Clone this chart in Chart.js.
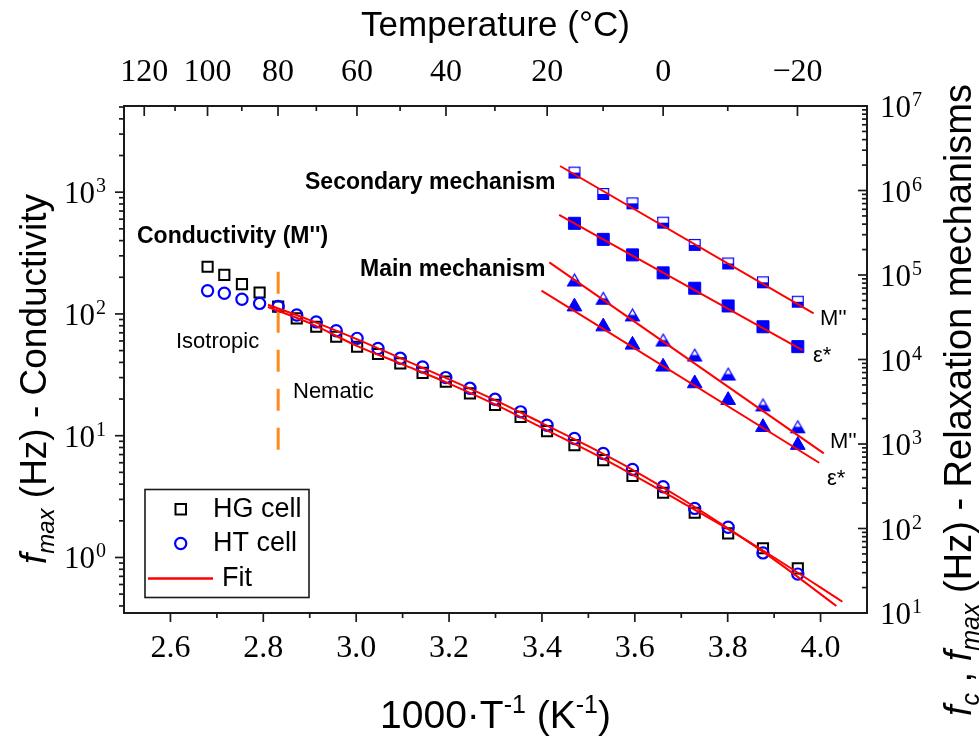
<!DOCTYPE html>
<html>
<head>
<meta charset="utf-8">
<script src="https://cdn.jsdelivr.net/npm/chart.js@4/dist/chart.umd.min.js"></script>
<style>
html,body{margin:0;padding:0;background:#fff;}
#wrap{width:979px;height:742px;position:relative;}
canvas{display:block;}
</style>
</head>
<body>
<div id="wrap"><canvas id="c" width="979" height="742"></canvas></div>
<script>
// ---------------- data ----------------
// 1000/T for the conductivity measurements (100 °C ... -20 °C)
const condInvT = [2.680, 2.716, 2.754, 2.792, 2.832, 2.872, 2.914, 2.957, 3.002, 3.047, 3.095, 3.143, 3.193,
                  3.245, 3.299, 3.354, 3.411, 3.470, 3.532, 3.595, 3.661, 3.729, 3.801, 3.876, 3.951];
const hgCell = [244, 209, 176, 150, 115, 92, 78.5, 65, 53.8, 46.9, 39.3, 32.8, 27.8,
                22.3, 17.9, 14.3, 10.9, 8.37, 6.31, 4.67, 3.40, 2.33, 1.58, 1.19, 0.815];
const htCell = [155, 148, 132, 122, 115, 98, 86, 72.8, 63, 52, 43.2, 36.7, 30,
                24.5, 19.9, 15.7, 12.2, 9.49, 7.15, 5.28, 3.81, 2.53, 1.77, 1.09, 0.73];

// conductivity fits
const fitHTx = [2.81, 2.9, 3.0, 3.1, 3.2, 3.3, 3.4, 3.5, 3.6, 3.7, 3.8, 3.9, 4.034];
const fitHTy = [119, 89, 62.4, 42.5, 29.0, 19.5, 12.7, 8.2, 5.13, 3.05, 1.74, 0.96, 0.40];
const fitHGx = [2.81, 2.9, 3.0, 3.1, 3.2, 3.3, 3.4, 3.5, 3.6, 3.7, 3.8, 3.9, 4.047];
const fitHGy = [114, 84, 55, 38.5, 26.8, 18.0, 11.6, 7.5, 4.68, 2.85, 1.72, 1.0, 0.433];

// relaxation mechanisms (right axis), 15 °C ... -20 °C
const relaxInvT = [3.470, 3.532, 3.595, 3.661, 3.729, 3.801, 3.876, 3.951];
const secondaryM = [1.63e6, 9.1e5, 7.05e5, 4.16e5, 2.27e5, 1.37e5, 8.2e4, 4.83e4];
const secondaryEps = [4.09e5, 2.64e5, 1.73e5, 1.06e5, 6.97e4, 4.3e4, 2.44e4, 1.42e4];
const mainM = [8.73e4, 5.3e4, 3.37e4, 1.70e4, 1.13e4, 6.73e3, 2.9e3, 1.6e3];
const mainEps = [4.22e4, 2.45e4, 1.49e4, 8.2e3, 5.2e3, 3.3e3, 1.58e3, 9.7e2];

// Arrhenius fit lines (end points)
const secMFitX = [3.439, 3.985], secMFitY = [1.95e6, 3.52e4];
const secEpsFitX = [3.437, 3.961], secEpsFitY = [5.13e5, 1.29e4];
const mainMFitX = [3.416, 4.007], mainMFitY = [1.41e5, 7.76e2];
const mainEpsFitX = [3.399, 3.997], mainEpsFitY = [6.52e4, 6.0e2];

// nematic-isotropic transition marker
const transX = [2.832, 2.832], transY = [222, 7.16];

// axis ticks
const xMajorTicks = [2.6, 2.8, 3.0, 3.2, 3.4, 3.6, 3.8, 4.0];
const xMinorTicks = [2.7, 2.9, 3.1, 3.3, 3.5, 3.7, 3.9];
const topTempMajor = [120, 100, 80, 60, 40, 20, 0, -20];
const topTempMinor = [110, 90, 70, 50, 30, 10, -10];
const leftExponents = [0, 1, 2, 3];
const rightExponents = [1, 2, 3, 4, 5, 6, 7];

// ---------------- styling ----------------
const SANS = '"Liberation Sans", Arial, sans-serif';
const SERIF = '"Liberation Serif", "Times New Roman", serif';
const BLUE = '#0000ff';
const RED = '#ff0000';
const ORANGE = '#ff8a1c';

function pts(xs, ys) { return xs.map((x, i) => ({ x: x, y: ys[i] })); }

function makeHalfSquare(side, color) {
  const c = document.createElement('canvas');
  const s = Math.ceil(side) + 2; c.width = s; c.height = s;
  const g = c.getContext('2d'); const o = (s - side) / 2;
  g.fillStyle = color; g.fillRect(o, o + side / 2, side, side / 2);
  g.strokeStyle = color; g.lineWidth = 1.2; g.strokeRect(o + 0.6, o + 0.6, side - 1.2, side - 1.2);
  return c;
}
function makeHalfTriangle(w, h, color) {
  const c = document.createElement('canvas');
  c.width = Math.ceil(w) + 2; c.height = Math.ceil(h) + 2;
  const g = c.getContext('2d'); const cx = c.width / 2, top = 1, bot = 1 + h, mid = top + h / 2;
  g.fillStyle = color;
  g.beginPath(); g.moveTo(cx - w / 4, mid); g.lineTo(cx + w / 4, mid); g.lineTo(cx + w / 2, bot); g.lineTo(cx - w / 2, bot); g.closePath(); g.fill();
  g.strokeStyle = color; g.lineWidth = 1.2;
  g.beginPath(); g.moveTo(cx, top + 0.6); g.lineTo(cx + w / 2 - 0.6, bot - 0.6); g.lineTo(cx - w / 2 + 0.6, bot - 0.6); g.closePath(); g.stroke();
  return c;
}
const halfSq = makeHalfSquare(12, BLUE);
const halfTri = makeHalfTriangle(15, 13, BLUE);

function lineDs(data, color, width, extra) {
  return Object.assign({ data: data, showLine: true, borderColor: color, borderWidth: width, pointRadius: 0,
    pointHoverRadius: 0, fill: false, order: 0, yAxisID: 'y' }, extra || {});
}

const datasets = [
  lineDs(pts(fitHTx, fitHTy), RED, 2, { cubicInterpolationMode: 'monotone' }),
  lineDs(pts(fitHGx, fitHGy), RED, 2, { cubicInterpolationMode: 'monotone' }),
  lineDs(pts(transX, transY), ORANGE, 3, { borderDash: [22, 17] }),
  lineDs(pts(secMFitX, secMFitY), RED, 2, { yAxisID: 'y2' }),
  lineDs(pts(secEpsFitX, secEpsFitY), RED, 2, { yAxisID: 'y2' }),
  lineDs(pts(mainMFitX, mainMFitY), RED, 2, { yAxisID: 'y2' }),
  lineDs(pts(mainEpsFitX, mainEpsFitY), RED, 2, { yAxisID: 'y2' }),
  { label: 'HT cell', data: pts(condInvT, htCell), pointStyle: 'circle', pointRadius: 5.6, borderColor: BLUE,
    backgroundColor: 'rgba(0,0,0,0)', pointBorderWidth: 2.2, borderWidth: 2.2, order: 1, yAxisID: 'y' },
  { label: 'HG cell', data: pts(condInvT, hgCell), pointStyle: 'rect', pointRadius: 7.2, borderColor: '#000',
    backgroundColor: 'rgba(0,0,0,0)', pointBorderWidth: 2, borderWidth: 2, order: 2, yAxisID: 'y' },
  { label: 'sec M', data: pts(relaxInvT, secondaryM), pointStyle: halfSq, pointRadius: 6, order: 3, yAxisID: 'y2' },
  { label: 'sec eps', data: pts(relaxInvT, secondaryEps), pointStyle: 'rect', pointRadius: 8.5, borderColor: BLUE,
    backgroundColor: BLUE, pointBorderWidth: 1, order: 3, yAxisID: 'y2' },
  { label: 'main M', data: pts(relaxInvT, mainM), pointStyle: halfTri, pointRadius: 6, order: 3, yAxisID: 'y2' },
  { label: 'main eps', data: pts(relaxInvT, mainEps), pointStyle: 'triangle', pointRadius: 8.5, borderColor: BLUE,
    backgroundColor: BLUE, pointBorderWidth: 1, order: 3, yAxisID: 'y2' }
];

// ---------------- decorations drawn through the chart's scales ----------------
function richText(ctx, parts, x, y, rot, align) {
  ctx.save();
  ctx.translate(x, y); ctx.rotate(rot || 0);
  let total = 0;
  parts.forEach(p => { ctx.font = p.font; p.w = ctx.measureText(p.t).width; total += p.w + (p.gap || 0); });
  let cx = align === 'left' ? 0 : (align === 'right' ? -total : -total / 2);
  ctx.textBaseline = 'alphabetic'; ctx.textAlign = 'left';
  parts.forEach(p => { ctx.font = p.font; ctx.fillText(p.t, cx, p.dy || 0); cx += p.w + (p.gap || 0); });
  ctx.restore();
}
function powLabel(ctx, exp, x, yPix, align) {
  const base = { t: '10', font: '31px ' + SERIF, dy: 11, gap: 1 };
  const sup = { t: String(exp), font: '20px ' + SERIF, dy: 0 };
  richText(ctx, [base, sup], x, yPix, 0, align);
}

const decor = {
  id: 'decor',
  afterDatasetsDraw(chart) {
    const ctx = chart.ctx, a = chart.chartArea;
    const x = chart.scales.x, y = chart.scales.y, y2 = chart.scales.y2;
    ctx.save();
    ctx.fillStyle = '#000'; ctx.strokeStyle = '#1a1a1a';
    const seg = (x1, y1, x2, y2_) => { ctx.beginPath(); ctx.moveTo(x1, y1); ctx.lineTo(x2, y2_); ctx.stroke(); };

    // frame
    ctx.lineWidth = 2;
    ctx.strokeRect(a.left, a.top, a.right - a.left, a.bottom - a.top);

    // ticks
    ctx.lineWidth = 1.7;
    xMajorTicks.forEach(v => { const p = x.getPixelForValue(v); seg(p, a.bottom, p, a.bottom + 9); });
    xMinorTicks.forEach(v => { const p = x.getPixelForValue(v); seg(p, a.bottom, p, a.bottom + 5); });
    topTempMajor.forEach(t => { const p = x.getPixelForValue(1000 / (t + 273.15)); seg(p, a.top, p, a.top + 10); });
    topTempMinor.forEach(t => { const p = x.getPixelForValue(1000 / (t + 273.15)); seg(p, a.top, p, a.top + 5); });
    for (let e = -1; e <= 3; e++) for (let m = 1; m <= 9; m++) {
      const v = m * Math.pow(10, e);
      if (v < y.min || v > y.max) continue;
      const p = y.getPixelForValue(v); seg(a.left - (m === 1 ? 9 : 5), p, a.left, p);
    }
    for (let e = 1; e <= 7; e++) for (let m = 1; m <= 9; m++) {
      const v = m * Math.pow(10, e);
      if (v < y2.min || v > y2.max * 1.0001) continue;
      const p = y2.getPixelForValue(v); seg(a.right - (m === 1 ? 9 : 5), p, a.right, p);
    }

    // tick labels
    ctx.fillStyle = '#000';
    ctx.font = '32px ' + SERIF; ctx.textAlign = 'center'; ctx.textBaseline = 'alphabetic';
    xMajorTicks.forEach(v => ctx.fillText(v.toFixed(1), x.getPixelForValue(v), 657));
    topTempMajor.forEach(t => {
      const lbl = t < 0 ? '\u2212' + Math.abs(t) : String(t);
      ctx.fillText(lbl, x.getPixelForValue(1000 / (t + 273.15)), 81);
    });
    leftExponents.forEach(e => powLabel(ctx, e, 106, y.getPixelForValue(Math.pow(10, e)), 'right'));
    rightExponents.forEach(e => powLabel(ctx, e, 880, y2.getPixelForValue(Math.pow(10, e)), 'left'));

    // axis titles
    const cxPlot = (a.left + a.right) / 2;
    ctx.font = '35px ' + SANS; ctx.textAlign = 'center'; ctx.textBaseline = 'alphabetic';
    ctx.fillText('Temperature (\u00B0C)', cxPlot, 36);
    richText(ctx, [
      { t: '1000\u00B7T', font: '39px ' + SANS },
      { t: '-1', font: '25px ' + SANS, dy: -15 },
      { t: ' (K', font: '39px ' + SANS },
      { t: '-1', font: '25px ' + SANS, dy: -15 },
      { t: ')', font: '39px ' + SANS }
    ], cxPlot, 728, 0, 'center');
    richText(ctx, [
      { t: 'f', font: 'italic 37px ' + SANS },
      { t: 'max', font: 'italic 24px ' + SANS, dy: 8 },
      { t: ' (Hz) - Conductivity', font: '37px ' + SANS }
    ], 46, 379, -Math.PI / 2, 'center');
    richText(ctx, [
      { t: 'f', font: 'italic 38px ' + SANS },
      { t: 'c', font: 'italic 25px ' + SANS, dy: 8 },
      { t: ' , ', font: '38px ' + SANS },
      { t: 'f', font: 'italic 38px ' + SANS },
      { t: 'max', font: 'italic 25px ' + SANS, dy: 8 },
      { t: ' (Hz) - Relaxation mechanisms', font: '38px ' + SANS }
    ], 971, 400, -Math.PI / 2, 'center');

    // annotations
    ctx.textAlign = 'left'; ctx.textBaseline = 'middle';
    ctx.font = 'bold 23px ' + SANS;
    ctx.fillText('Secondary mechanism', 305, 183);
    ctx.fillText('Main mechanism', 360, 270);
    ctx.fillText("Conductivity (M'')", 137, 237);
    ctx.font = '22px ' + SANS;
    ctx.fillText('Isotropic', 176, 342);
    ctx.fillText('Nematic', 293, 392);
    ctx.fillText("M''", 820, 319);
    ctx.fillText('\u03B5*', 813, 356);
    ctx.fillText("M''", 830, 442);
    ctx.fillText('\u03B5*', 827, 479);

    // legend
    ctx.lineWidth = 1.6; ctx.strokeStyle = '#1a1a1a';
    ctx.strokeRect(145, 489.5, 164, 108);
    ctx.lineWidth = 2; ctx.strokeStyle = '#000';
    ctx.strokeRect(175.5, 504, 10.5, 10.5);
    ctx.strokeStyle = BLUE; ctx.lineWidth = 2.2;
    ctx.beginPath(); ctx.arc(180.7, 543.5, 5.6, 0, Math.PI * 2); ctx.stroke();
    ctx.strokeStyle = RED; ctx.lineWidth = 2.5; seg(148, 578.5, 213, 578.5);
    ctx.fillStyle = '#000'; ctx.font = '27px ' + SANS; ctx.textBaseline = 'middle';
    ctx.fillText('HG cell', 213, 510);
    ctx.fillText('HT cell', 213, 544);
    ctx.fillText('Fit', 222, 579);
    ctx.restore();
  }
};

new Chart(document.getElementById('c').getContext('2d'), {
  type: 'scatter',
  data: { datasets: datasets },
  options: {
    responsive: false,
    animation: false,
    devicePixelRatio: 1,
    layout: { padding: { left: 124, right: 112, top: 106, bottom: 129 } },
    plugins: { legend: { display: false }, tooltip: { enabled: false } },
    events: [],
    scales: {
      x: { type: 'linear', min: 2.5, max: 4.1, display: false },
      x2: { type: 'linear', min: 2.5, max: 4.1, display: false, position: 'top' },
      y: { type: 'logarithmic', min: 0.35, max: 5100, display: false },
      y2: { type: 'logarithmic', min: 10, max: 1e7, display: false, position: 'right' }
    }
  },
  plugins: [decor]
});
</script>
</body>
</html>
